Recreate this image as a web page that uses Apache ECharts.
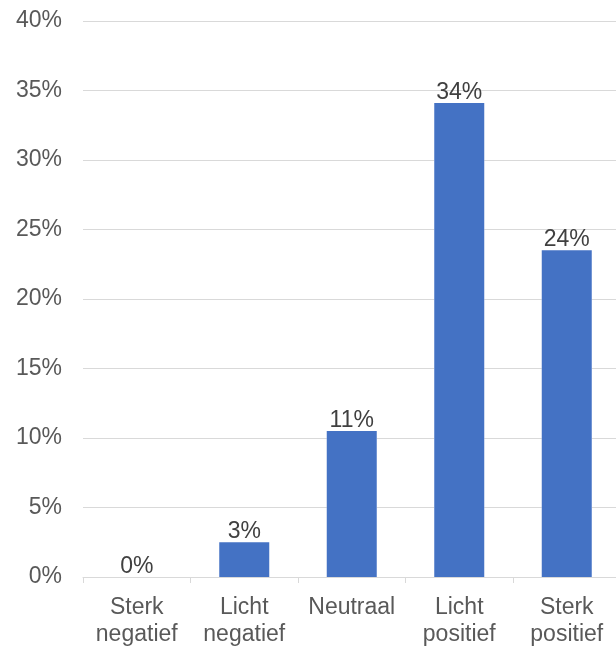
<!DOCTYPE html>
<html>
<head>
<meta charset="utf-8">
<script src="https://cdn.jsdelivr.net/npm/echarts@6/dist/echarts.min.js"></script>
<style>
  html, body { margin: 0; padding: 0; background: #fff; }
  #chart { width: 616px; height: 646px; }
</style>
</head>
<body>
<div id="chart"></div>
<script>
// categories and values (percent)
const categories = ["Sterk\nnegatief", "Licht\nnegatief", "Neutraal", "Licht\npositief", "Sterk\npositief"];
const values = [0, 2.5, 10.5, 34.1, 23.5];
const yTicks = { min: 0, max: 40, interval: 5 };

const font = "Liberation Sans, Arial, sans-serif";

var myChart = echarts.init(document.getElementById("chart"));
myChart.setOption({
  animation: false,
  // plot area runs a little past the right edge of the picture
  grid: { left: 83, top: 21, right: -4.5, bottom: 69, outerBoundsMode: "none", containLabel: false },
  xAxis: {
    type: "category",
    data: categories,
    z: 3,
    axisLine: { lineStyle: { color: "#d9d9d9", width: 1 } },
    axisTick: { show: true, length: 6, lineStyle: { color: "#d9d9d9" } },
    axisLabel: {
      color: "#595959",
      fontSize: 23,
      fontFamily: font,
      lineHeight: 27,
      margin: 17,
      interval: 0,
    },
  },
  yAxis: {
    type: "value",
    min: yTicks.min,
    max: yTicks.max,
    interval: yTicks.interval,
    axisLine: { show: false },
    axisTick: { show: false },
    axisLabel: {
      color: "#595959",
      fontSize: 23,
      fontFamily: font,
      margin: 21,
      padding: [4, 0, 0, 0],
      formatter: (v) => v + "%",
    },
    splitLine: { lineStyle: { color: "#d9d9d9", width: 1 } },
  },
  series: [
    {
      // white halo behind each bar (gridlines stop short of the bars)
      type: "bar",
      data: values,
      barWidth: 50,
      barGap: "-100%",
      silent: true,
      itemStyle: { color: "#ffffff", borderColor: "#ffffff", borderWidth: 9 },
    },
    {
      type: "bar",
      data: values,
      barWidth: 50,
      barGap: "-100%",
      itemStyle: { color: "#4472c4" },
      label: {
        show: true,
        position: "top",
        distance: -1,
        color: "#404040",
        fontSize: 23,
        fontFamily: font,
        formatter: (p) => Math.round(p.value) + "%",
      },
    },
  ],
});
</script>
</body>
</html>
